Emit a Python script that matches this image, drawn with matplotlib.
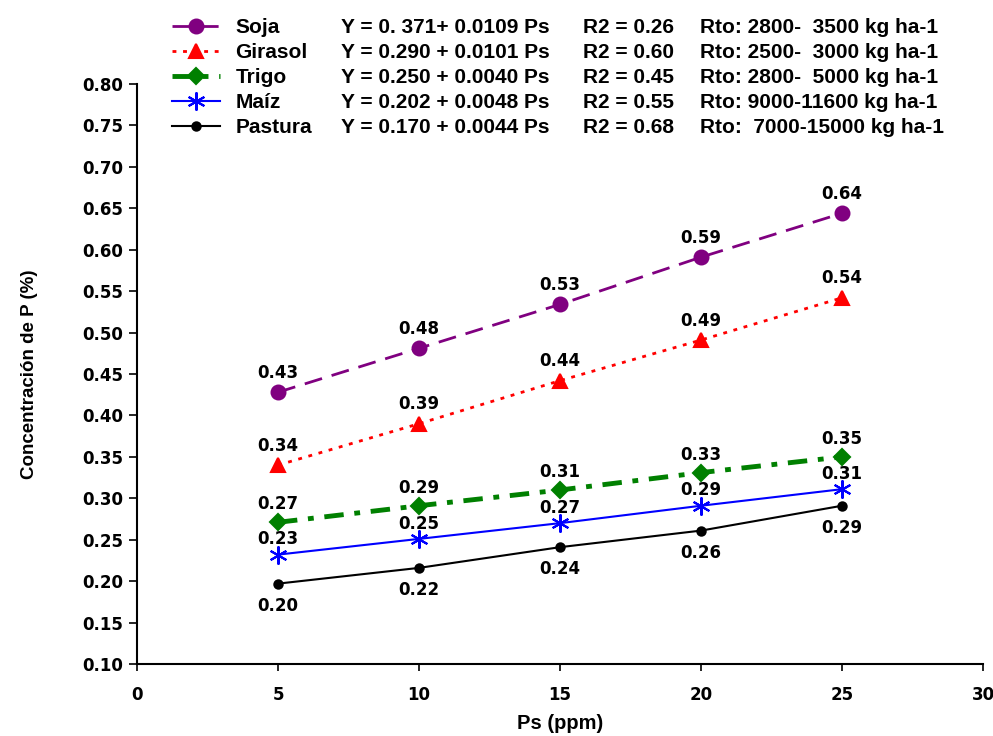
import matplotlib
matplotlib.use('Agg')
import matplotlib.pyplot as plt

# Data
ps = [5, 10, 15, 20, 25]
series_names = ['Soja', 'Girasol', 'Trigo', 'Maíz', 'Pastura']
soja = [0.428, 0.481, 0.534, 0.591, 0.644]
girasol = [0.340, 0.390, 0.442, 0.491, 0.542]
trigo = [0.271, 0.291, 0.310, 0.331, 0.350]
maiz = [0.232, 0.251, 0.270, 0.291, 0.311]
pastura = [0.197, 0.216, 0.241, 0.261, 0.291]

equations = ['Y = 0. 371+ 0.0109 Ps', 'Y = 0.290 + 0.0101 Ps', 'Y = 0.250 + 0.0040 Ps',
             'Y = 0.202 + 0.0048 Ps', 'Y = 0.170 + 0.0044 Ps']
r2_labels = ['R2 = 0.26', 'R2 = 0.60', 'R2 = 0.45', 'R2 = 0.55', 'R2 = 0.68']
rto_labels = ['Rto: 2800-  3500 kg ha-1', 'Rto: 2500-  3000 kg ha-1', 'Rto: 2800-  5000 kg ha-1',
              'Rto: 9000-11600 kg ha-1', 'Rto:  7000-15000 kg ha-1']

values = [soja, girasol, trigo, maiz, pastura]

# style per series: color, marker, markersize, linewidth, dashes, label offset (pt)
styles = [
    dict(color='#800080', marker='o', ms=10, lw=2.0, dashes=(6.5, 3.6), off=14),
    dict(color='#ff0000', marker='^', ms=10, lw=2.0, dashes=(1.4, 2.4), off=14),
    dict(color='#008000', marker='D', ms=8, lw=3.5, dashes=(4.0, 2.2, 1.2, 2.2), off=13),
    dict(color='#0000ff', marker=(6, 2, 0), ms=13, lw=1.5, dashes=None, off=11),
    dict(color='#000000', marker='o', ms=6, lw=1.5, dashes=None, off=-16),
]

plt.rcParams['font.family'] = ['DejaVu Sans']

fig = plt.figure(figsize=(9.93, 7.36), dpi=100)
ax = fig.add_axes([137 / 993, 1 - 664 / 736, 846 / 993, 580 / 736])

handles = []
for name, vals, st in zip(series_names, values, styles):
    kw = dict(color=st['color'], lw=st['lw'], marker=st['marker'], ms=st['ms'],
              markerfacecolor=st['color'], markeredgecolor=st['color'], mew=1.5)
    if st['dashes'] is not None:
        kw['dashes'] = st['dashes']
    line, = ax.plot(ps, vals, label=name, **kw)
    handles.append(line)
    for x, y in zip(ps, vals):
        ax.annotate(f'{y:.2f}', xy=(x, y), xytext=(0, st['off']), textcoords='offset points',
                    ha='center', va='center', fontsize=12, fontweight='bold')

ax.set_xlim(0, 30)
ax.set_ylim(0.10, 0.80)
ax.set_xticks(range(0, 31, 5))
ax.set_yticks([0.10 + 0.05 * i for i in range(15)])
ax.set_yticklabels([f'{0.10 + 0.05 * i:.2f}' for i in range(15)])
for lab in ax.get_xticklabels() + ax.get_yticklabels():
    lab.set_fontweight('bold')
    lab.set_fontsize(12)
ax.tick_params(axis='x', direction='out', length=5, width=1.2, pad=11)
ax.tick_params(axis='y', direction='out', length=6, width=1.2, pad=4)
ax.spines['top'].set_visible(False)
ax.spines['right'].set_visible(False)
ax.spines['left'].set_linewidth(1.5)
ax.spines['bottom'].set_linewidth(1.5)

ax.set_xlabel('Ps (ppm)', fontsize=14.5, fontweight='bold', family='Liberation Sans', labelpad=7)
ax.set_ylabel('Concentración de P (%)', fontsize=13.5, fontweight='bold', family='Liberation Sans',
              labelpad=32)

# Legend with names, extra columns aligned to each legend row
leg = fig.legend(handles=handles, loc='upper left', bbox_to_anchor=(172 / 993, 1 - 18 / 736),
                 frameon=False, borderpad=0, borderaxespad=0, handlelength=2.3,
                 handletextpad=0.75, labelspacing=0.29,
                 prop={'family': 'Liberation Sans', 'weight': 'bold', 'size': 15})

fig.canvas.draw()
H = fig.bbox.height
W = fig.bbox.width
for t, eq, r2, rto in zip(leg.get_texts(), equations, r2_labels, rto_labels):
    bb = t.get_window_extent()
    yc = (bb.y0 + bb.y1) / 2 / H
    for x, s in [(341, eq), (583, r2), (700, rto)]:
        fig.text(x / W, yc, s, ha='left', va='center', family='Liberation Sans',
                 fontweight='bold', fontsize=15)

fig.savefig('out.png', dpi=100)
